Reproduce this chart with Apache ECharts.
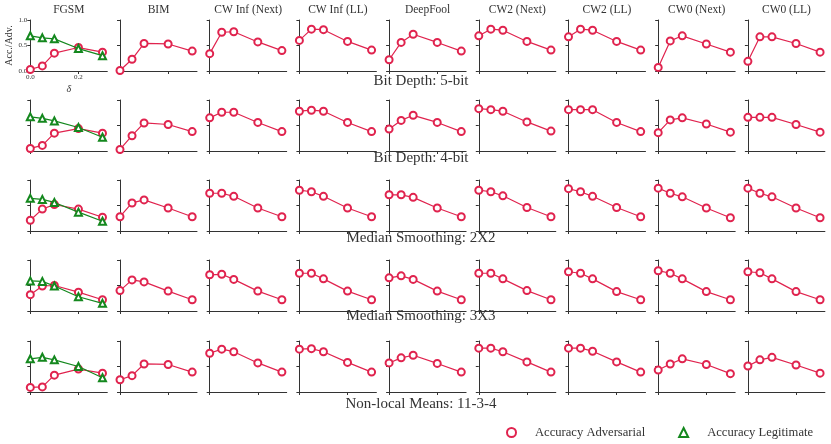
<!DOCTYPE html>
<html><head><meta charset="utf-8">
<script src="https://cdn.jsdelivr.net/npm/echarts@6/dist/echarts.min.js"></script>
<style>html,body{margin:0;padding:0;background:#fff}#c{width:831px;height:444px}</style>
</head><body><div id="c"></div>
<script>
const attacks = ['FGSM','BIM','CW Inf (Next)','CW Inf (LL)','DeepFool','CW2 (Next)','CW2 (LL)','CW0 (Next)','CW0 (LL)'];
const squeezers = ['Bit Depth: 5-bit','Bit Depth: 4-bit','Median Smoothing: 2X2','Median Smoothing: 3X3','Non-local Means: 11-3-4'];
const deltas = [0, 0.05, 0.1, 0.2, 0.3];
const xTicks = [0, 0.2];
const yTicks = [0, 0.5, 1.0];

const advBitDepth5 = [
  [0.03,0.10,0.35,0.46,0.37],
  [0.01,0.23,0.54,0.53,0.39],
  [0.34,0.76,0.77,0.57,0.40],
  [0.60,0.82,0.81,0.58,0.41],
  [0.22,0.56,0.72,0.56,0.39],
  [0.69,0.82,0.80,0.58,0.41],
  [0.67,0.82,0.80,0.58,0.41],
  [0.07,0.59,0.69,0.53,0.37],
  [0.19,0.67,0.67,0.54,0.37]];
const legitBitDepth5 = [0.69,0.65,0.63,0.44,0.30];

const advBitDepth4 = [
  [0.05,0.11,0.35,0.44,0.35],
  [0.03,0.30,0.55,0.52,0.38],
  [0.65,0.76,0.76,0.56,0.38],
  [0.78,0.80,0.78,0.56,0.38],
  [0.43,0.60,0.70,0.56,0.38],
  [0.83,0.81,0.78,0.57,0.39],
  [0.81,0.81,0.81,0.56,0.38],
  [0.36,0.61,0.65,0.53,0.37],
  [0.66,0.66,0.66,0.52,0.37]];
const legitBitDepth4 = [0.67,0.64,0.59,0.46,0.27];

const advMedian2 = [
  [0.21,0.43,0.52,0.43,0.27],
  [0.28,0.55,0.61,0.45,0.28],
  [0.74,0.74,0.68,0.45,0.28],
  [0.80,0.77,0.68,0.45,0.28],
  [0.71,0.71,0.66,0.45,0.28],
  [0.80,0.77,0.69,0.46,0.28],
  [0.83,0.77,0.68,0.46,0.28],
  [0.84,0.74,0.67,0.45,0.26],
  [0.84,0.74,0.67,0.45,0.26]];
const legitMedian2 = [0.64,0.62,0.56,0.37,0.19];

const advMedian3 = [
  [0.32,0.49,0.50,0.37,0.22],
  [0.40,0.61,0.57,0.39,0.22],
  [0.71,0.72,0.62,0.39,0.22],
  [0.74,0.74,0.63,0.39,0.22],
  [0.65,0.69,0.62,0.39,0.22],
  [0.74,0.74,0.63,0.40,0.22],
  [0.77,0.74,0.63,0.38,0.22],
  [0.79,0.74,0.63,0.38,0.22],
  [0.77,0.75,0.63,0.38,0.22]];
const legitMedian3 = [0.59,0.58,0.49,0.28,0.15];

const advNonLocal = [
  [0.09,0.10,0.33,0.45,0.37],
  [0.24,0.32,0.55,0.54,0.39],
  [0.76,0.84,0.79,0.57,0.39],
  [0.84,0.85,0.79,0.58,0.39],
  [0.57,0.67,0.72,0.56,0.39],
  [0.86,0.86,0.79,0.59,0.39],
  [0.86,0.86,0.80,0.59,0.39],
  [0.43,0.55,0.65,0.54,0.36],
  [0.51,0.63,0.68,0.53,0.37]];
const legitNonLocal = [0.65,0.68,0.63,0.50,0.28];

const advRows = [advBitDepth5, advBitDepth4, advMedian2, advMedian3, advNonLocal];
const legitRows = [legitBitDepth5, legitBitDepth4, legitMedian2, legitMedian3, legitNonLocal];

const RED = '#e0234e', GREEN = '#14881e', AXIS = '#333', TXT = '#333';
const FONT = '"Liberation Serif", "DejaVu Serif", serif';
const colLeft = 30.3, colStep = 89.7, plotW = 77, plotH = 51;
const rowTops = [20, 100, 180, 260, 341];

const grid = [], xAxis = [], yAxis = [], series = [], graphic = [];
let gi = 0;
for (let r = 0; r < 5; r++) {
  for (let c = 0; c < 9; c++) {
    const showLab = (r === 0 && c === 0);
    grid.push({left: colLeft + c*colStep, top: rowTops[r], width: plotW, height: plotH, containLabel: false});
    xAxis.push({
      gridIndex: gi, type: 'value', min: 0, max: 0.32,
      axisLine: {show: true, lineStyle: {color: AXIS, width: 1}},
      axisTick: {show: true, inside: false, length: 3, customValues: xTicks, lineStyle: {color: AXIS}},
      axisLabel: {show: showLab, customValues: xTicks, formatter: v => v.toFixed(1), fontSize: 7, color: TXT, fontFamily: FONT, margin: 3},
      splitLine: {show: false},
      name: showLab ? 'δ' : '', nameLocation: 'middle', nameGap: 13,
      nameTextStyle: {fontSize: 10, color: TXT, fontFamily: FONT, fontStyle: 'italic'}
    });
    yAxis.push({
      gridIndex: gi, type: 'value', min: 0, max: 1.0,
      axisLine: {show: true, lineStyle: {color: AXIS, width: 1}},
      axisTick: {show: true, inside: false, length: 3, customValues: yTicks, lineStyle: {color: AXIS}},
      axisLabel: {show: showLab, customValues: yTicks, formatter: v => v.toFixed(1), fontSize: 7, color: TXT, fontFamily: FONT, margin: 3},
      splitLine: {show: false},
      name: showLab ? 'Acc./Adv.' : '', nameLocation: 'middle', nameGap: 15, nameRotate: 90,
      nameTextStyle: {fontSize: 10, color: TXT, fontFamily: FONT}
    });
    series.push({
      name: 'Accuracy Adversarial', type: 'line', xAxisIndex: gi, yAxisIndex: gi,
      data: deltas.map((d, k) => [d, advRows[r][c][k]]),
      symbol: 'emptyCircle', symbolSize: 7, clip: false,
      lineStyle: {color: RED, width: 1.2}, itemStyle: {color: RED, borderColor: RED, borderWidth: 0.7}, z: 3
    });
    if (c === 0) {
      series.push({
        name: 'Accuracy Legitimate', type: 'line', xAxisIndex: gi, yAxisIndex: gi,
        data: deltas.map((d, k) => [d, legitRows[r][k]]),
        symbol: 'emptyTriangle', symbolSize: 7, clip: false,
        lineStyle: {color: GREEN, width: 1.2}, itemStyle: {color: GREEN, borderColor: GREEN, borderWidth: 0.7}, z: 4
      });
    }
    gi++;
  }
}
attacks.forEach((a, c) => {
  graphic.push({type: 'text', x: colLeft + c*colStep + plotW/2, y: 10,
    style: {text: a, fill: TXT, font: '11.5px ' + FONT, textAlign: 'center', textVerticalAlign: 'middle'}});
});
const rowLabelY = [81, 158, 238, 316, 404];
squeezers.forEach((s, r) => {
  graphic.push({type: 'text', x: 421, y: rowLabelY[r],
    style: {text: s, fill: TXT, font: '15px ' + FONT, textAlign: 'center', textVerticalAlign: 'middle'}});
});

const chart = echarts.init(document.getElementById('c'), null, {renderer: 'canvas'});
chart.setOption({
  animation: false,
  backgroundColor: '#fff',
  grid, xAxis, yAxis, series, graphic,
  legend: {
    left: 501, top: 421, itemWidth: 9, itemHeight: 9, itemGap: 33,
    textStyle: {fontSize: 12.6, color: TXT, fontFamily: FONT, padding: [0, 0, 0, 14]},
    data: [
      {name: 'Accuracy Adversarial', icon: 'emptyCircle'},
      {name: 'Accuracy Legitimate', icon: 'emptyTriangle'}
    ]
  }
});
</script></body></html>
